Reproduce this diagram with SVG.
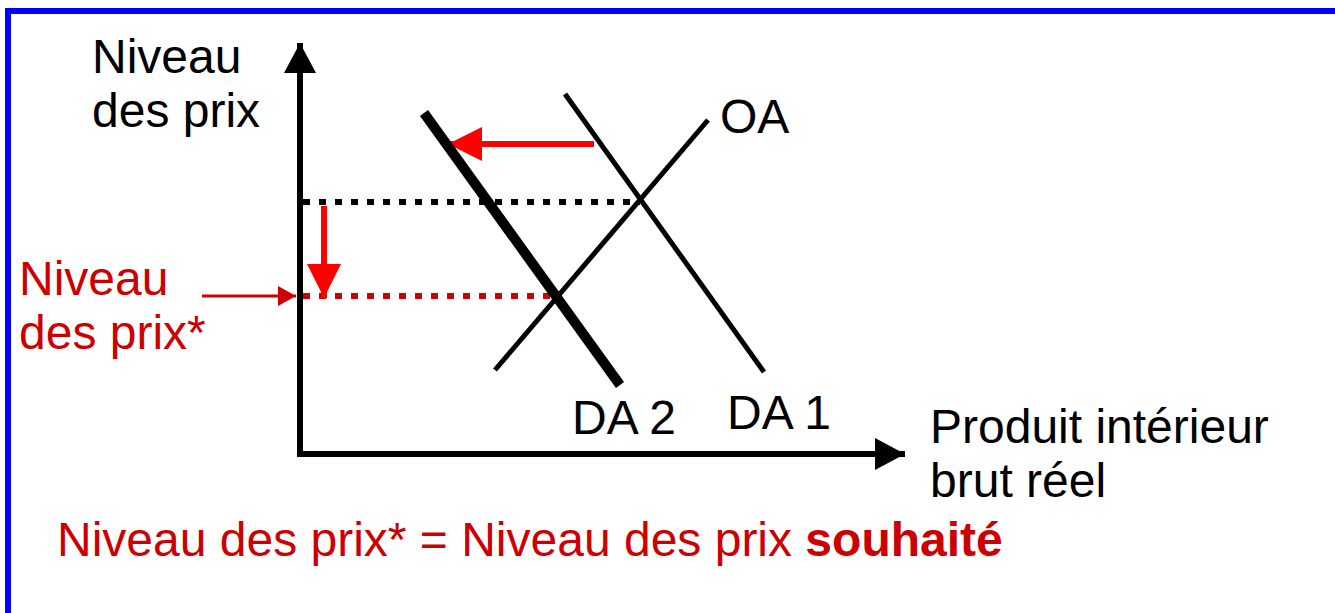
<svg xmlns="http://www.w3.org/2000/svg" width="1335" height="613" viewBox="0 0 1335 613">
<style>
text{font-family:"Liberation Sans",Arial,sans-serif;font-size:48px}
.blk{fill:#000}
.red{fill:#CC0000}
</style>
<defs>
<marker id="ahBlack" markerUnits="userSpaceOnUse" markerWidth="34" markerHeight="34" refX="30" refY="16" orient="auto"><path d="M0,0 L30,16 L0,32 Z" fill="#000"/></marker>
<marker id="ahRed" markerUnits="userSpaceOnUse" markerWidth="36" markerHeight="36" refX="34" refY="17" orient="auto"><path d="M0,0 L34,17 L0,34 Z" fill="#FF0000"/></marker>
<marker id="ahDark" markerUnits="userSpaceOnUse" markerWidth="20" markerHeight="20" refX="18" refY="10" orient="auto"><path d="M0,0 L18,10 L0,20 Z" fill="#CC0000"/></marker>
</defs>
<rect width="1335" height="613" fill="#fff"/>
<rect id="frame" x="8" y="11" width="1340" height="620" fill="none" stroke="#0000FF" stroke-width="6"/>
<g id="connectors">
<line x1="300" y1="457" x2="300" y2="43" stroke="#000" stroke-width="6" marker-end="url(#ahBlack)"/>
<line x1="297" y1="454" x2="905" y2="454" stroke="#000" stroke-width="6" marker-end="url(#ahBlack)"/>
<line x1="303" y1="202" x2="640" y2="202" stroke="#000" stroke-width="6" stroke-dasharray="7 9"/>
<line x1="303" y1="296" x2="560" y2="296" stroke="#CC0000" stroke-width="6" stroke-dasharray="7 9"/>
<line x1="324" y1="206" x2="324" y2="298" stroke="#FF0000" stroke-width="6" marker-end="url(#ahRed)"/>
<line x1="594" y1="144" x2="448" y2="144" stroke="#FF0000" stroke-width="6" marker-end="url(#ahRed)"/>
<line x1="202" y1="296" x2="296" y2="296" stroke="#CC0000" stroke-width="3" marker-end="url(#ahDark)"/>
</g>
<g id="DA1"><line x1="565" y1="94" x2="764" y2="372" stroke="#000" stroke-width="5"/><text class="blk" x="727" y="429">DA 1</text></g>
<g id="DA2"><line x1="424" y1="113" x2="620" y2="385" stroke="#000" stroke-width="10"/><text class="blk" x="572" y="434">DA 2</text></g>
<g id="OA"><line x1="495" y1="370" x2="708" y2="120" stroke="#000" stroke-width="5"/><text class="blk" x="720" y="133">OA</text></g>
<g id="yLabel"><text class="blk" x="92" y="73">Niveau</text><text class="blk" x="92" y="127">des prix</text></g>
<g id="xLabel"><text class="blk" x="930" y="443">Produit intérieur</text><text class="blk" x="930" y="497">brut réel</text></g>
<g id="redLabel"><text class="red" x="19" y="295">Niveau</text><text class="red" x="19" y="349">des prix*</text></g>
<g id="note"><text class="red" x="57" y="556">Niveau des prix* = Niveau des prix <tspan font-weight="bold">souhaité</tspan></text></g>
</svg>
